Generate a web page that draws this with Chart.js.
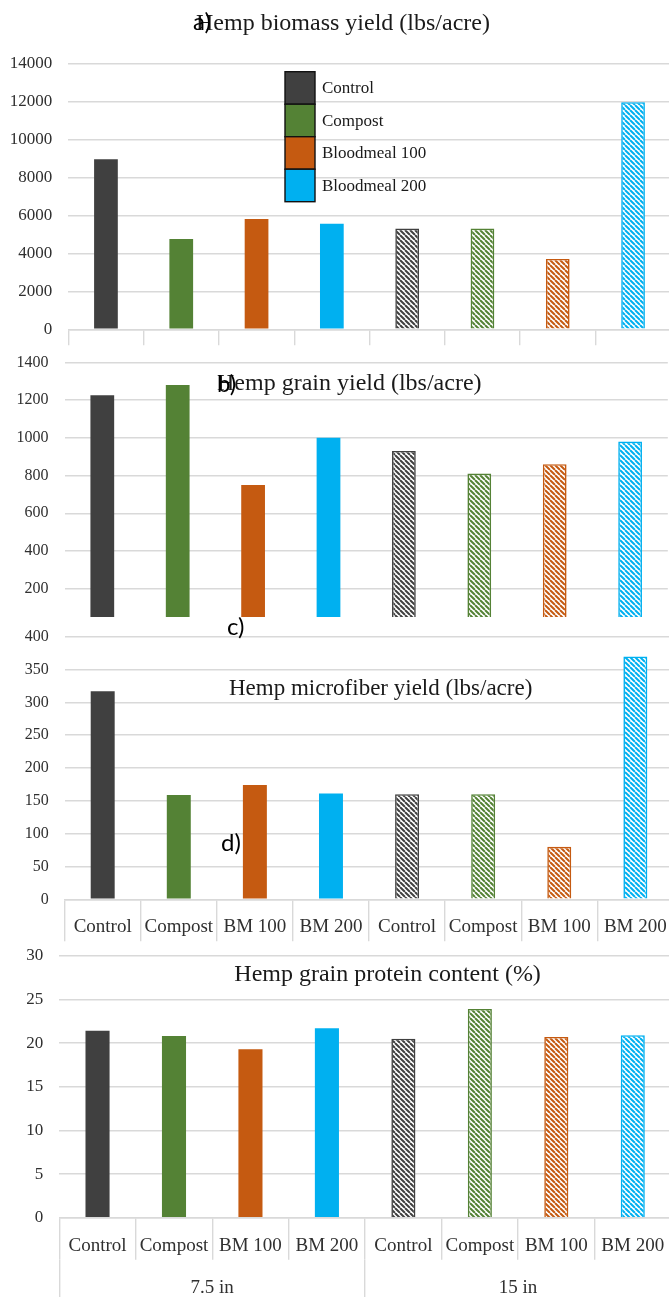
<!DOCTYPE html>
<html>
<head>
<meta charset="utf-8">
<title>Hemp yield and protein by fertilizer treatment and row spacing</title>
<script src="https://cdn.jsdelivr.net/npm/chart.js@4.4.1/dist/chart.umd.min.js"></script>
<style>
  html, body { margin: 0; padding: 0; background: #fff; overflow: hidden; width: 669px; height: 1297px; }
  .panel { position: absolute; left: 0; width: 669px; overflow: hidden; }
  canvas { display: block; }
</style>
</head>
<body>
<div class="panel" style="top:0;height:350px"><canvas id="biomass" width="680" height="350"></canvas></div>
<div class="panel" style="top:350px;height:267px"><canvas id="grain" width="680" height="290"></canvas></div>
<div class="panel" style="top:617px;height:326px"><canvas id="fiber" width="680" height="326"></canvas></div>
<div class="panel" style="top:943px;height:354px"><canvas id="protein" width="680" height="354"></canvas></div>
<script>
// Row spacings and fertilizer treatments
const spacings = ['7.5 in', '15 in'];
const treatments = ['Control', 'Compost', 'BM 100', 'BM 200'];
const legendLabels = ['Control', 'Compost', 'Bloodmeal 100', 'Bloodmeal 200'];
const treatmentColors = ['#404040', '#548235', '#C55A11', '#00B0F0'];

// Values per treatment: 7.5 in spacing first, then 15 in
const biomassYield = [8950, 4750, 5800, 5550, 5300, 5300, 3700, 11950];
const grainYield = [1225, 1280, 750, 1000, 930, 810, 860, 980];
const microfiberYield = [317, 159, 174, 161, 160, 160, 80, 370];
const grainProtein = [21.4, 20.8, 19.3, 21.7, 20.5, 23.9, 20.7, 20.9];

// Value-axis tick labels
const biomassTicks = [0, 2000, 4000, 6000, 8000, 10000, 12000, 14000];
const grainTicks = [0, 200, 400, 600, 800, 1000, 1200, 1400];
const fiberTicks = [0, 50, 100, 150, 200, 250, 300, 350, 400];
const proteinTicks = [0, 5, 10, 15, 20, 25, 30];

const categories = spacings.flatMap(() => treatments);

const SERIF = '"Liberation Serif", "Times New Roman", serif';
const SANS = 'Lato, "Liberation Sans", sans-serif';
const GRID = '#d9d9d9';
const TEXT = '#303030';

// Diagonal stripe fill used for the 15 in bars
function stripes(color) {
  const s = 5;
  const c = document.createElement('canvas');
  c.width = s; c.height = s;
  const g = c.getContext('2d');
  g.fillStyle = '#fff';
  g.fillRect(0, 0, s, s);
  g.strokeStyle = color;
  g.lineWidth = 2;
  g.beginPath();
  for (let k = -1; k <= 1; k++) { g.moveTo(k * s, 0); g.lineTo(k * s + s, s); }
  g.stroke();
  return g.createPattern(c, 'repeat');
}

const groupOf = i => Math.floor(i / treatments.length);
const colorOf = i => treatmentColors[i % treatments.length];
const barFill = categories.map((_, i) => groupOf(i) === 0 ? colorOf(i) : stripes(colorOf(i)));
const barBorder = categories.map((_, i) => colorOf(i));
const barBorderWidth = categories.map((_, i) => groupOf(i) === 0 ? 0 : 1.6);

// Titles, panel letters and the treatment key drawn over the plot
const panelText = {
  id: 'panelText',
  afterDatasetsDraw(chart, args, opts) {
    const ctx = chart.ctx;
    ctx.save();
    ctx.textAlign = 'left';
    ctx.textBaseline = 'alphabetic';
    (opts.items || []).forEach(it => {
      ctx.font = it.font;
      ctx.fillStyle = it.color || '#1a1a1a';
      ctx.fillText(it.text, it.x, it.y);
    });
    if (opts.key) {
      const k = opts.key;
      legendLabels.forEach((lab, i) => {
        const y = k.y + i * k.h;
        ctx.fillStyle = treatmentColors[i];
        ctx.fillRect(k.x, y, k.w, k.h);
        ctx.lineWidth = 1.4;
        ctx.strokeStyle = '#111';
        ctx.strokeRect(k.x, y, k.w, k.h);
        ctx.font = k.font;
        ctx.fillStyle = '#1a1a1a';
        ctx.textBaseline = 'middle';
        ctx.fillText(lab, k.x + k.w + 7, y + k.h / 2 + 1);
        ctx.textBaseline = 'alphabetic';
      });
    }
    ctx.restore();
  }
};
Chart.register(panelText);

// Left value axis; the invisible tick marks keep the labels clear of the plot
function valueAxis(ticks, width, size) {
  return {
    min: ticks[0],
    max: ticks[ticks.length - 1],
    afterBuildTicks: s => { s.ticks = ticks.map(v => ({ value: v })); },
    afterFit: s => { s.width = width; },
    grid: { color: GRID, lineWidth: 1.4, drawTicks: true, tickLength: 16, tickColor: 'rgba(0,0,0,0)' },
    border: { display: false },
    ticks: { padding: 0, color: TEXT, font: { family: SERIF, size: size }, callback: v => String(v) }
  };
}

function categoryAxis(opts) {
  return {
    display: opts.display !== false,
    offset: true,
    weight: 0,
    afterFit: s => { s.height = opts.height; },
    grid: { offset: true, drawOnChartArea: false, color: GRID, lineWidth: 1.4, tickLength: opts.tickLength },
    border: { color: GRID, width: 1.4 },
    ticks: {
      display: !!opts.showLabels, autoSkip: false, maxRotation: 0, minRotation: 0,
      padding: opts.labelPadding || 0, color: TEXT, font: { family: SERIF, size: 19 }
    }
  };
}

function makeChart(id, values, cfg) {
  const scales = { x: cfg.x, y: cfg.y };
  if (cfg.x2) scales.x2 = cfg.x2;
  return new Chart(document.getElementById(id), {
    type: 'bar',
    data: {
      labels: categories,
      datasets: [{
        data: values,
        backgroundColor: barFill,
        borderColor: barBorder,
        borderWidth: barBorderWidth,
        borderSkipped: 'start',
        barPercentage: 0.315,
        categoryPercentage: 1
      }]
    },
    options: {
      responsive: false,
      animation: false,
      events: [],
      layout: { padding: { top: cfg.pad.top, right: cfg.pad.right, bottom: cfg.pad.bottom || 0, left: 0 } },
      plugins: {
        legend: { display: false },
        tooltip: { enabled: false },
        panelText: { items: cfg.text, key: cfg.key }
      },
      scales: scales
    }
  });
}

// a) biomass
makeChart('biomass', biomassYield, {
  pad: { top: 63.3, right: 9.3 },
  y: valueAxis(biomassTicks, 68.3, 17),
  x: categoryAxis({ height: 20.7, tickLength: 16 }),
  text: [
    { text: 'Hemp biomass yield (lbs/acre)', x: 196, y: 30, font: '24px ' + SERIF },
    { text: 'a)', x: 193, y: 30, font: '24px ' + SANS, color: '#000' }
  ],
  key: { x: 285, y: 71.7, w: 30, h: 32.5, font: '17px ' + SERIF }
});

// b) grain yield
makeChart('grain', grainYield, {
  pad: { top: 12.3, right: 12.2, bottom: 13.6 },
  y: valueAxis(grainTicks, 64.6, 16),
  x: categoryAxis({ display: false, height: 0, tickLength: 0 }),
  text: [
    { text: 'Hemp grain yield (lbs/acre)', x: 217, y: 40, font: '24px ' + SERIF },
    { text: 'b)', x: 217, y: 42, font: '24px ' + SANS, color: '#000' }
  ]
});

// c) microfiber yield
makeChart('fiber', microfiberYield, {
  pad: { top: 19.7, right: 6.6 },
  y: valueAxis(fiberTicks, 64.65, 16),
  x: categoryAxis({ height: 43.7, tickLength: 42, showLabels: true, labelPadding: -25.4 }),
  text: [
    { text: 'Hemp microfiber yield (lbs/acre)', x: 229, y: 78, font: '23px ' + SERIF },
    { text: 'c)', x: 227, y: 18, font: '24px ' + SANS, color: '#000' },
    { text: 'd)', x: 221, y: 234, font: '24px ' + SANS, color: '#000' }
  ]
});

// d) grain protein, with the row-spacing group row underneath
const spacingAxis = categoryAxis({ height: 37, tickLength: 37, showLabels: true, labelPadding: -20.4 });
spacingAxis.type = 'category';
spacingAxis.position = 'bottom';
spacingAxis.labels = spacings;
spacingAxis.weight = 1;
spacingAxis.border = { display: false };

makeChart('protein', grainProtein, {
  pad: { top: 12.7, right: 9 },
  y: valueAxis(proteinTicks, 59.3, 17),
  x: categoryAxis({ height: 42.3, tickLength: 42, showLabels: true, labelPadding: -25.4 }),
  x2: spacingAxis,
  text: [
    { text: 'Hemp grain protein content (%)', x: 234.3, y: 37.7, font: '24px ' + SERIF }
  ]
});
</script>
</body>
</html>
